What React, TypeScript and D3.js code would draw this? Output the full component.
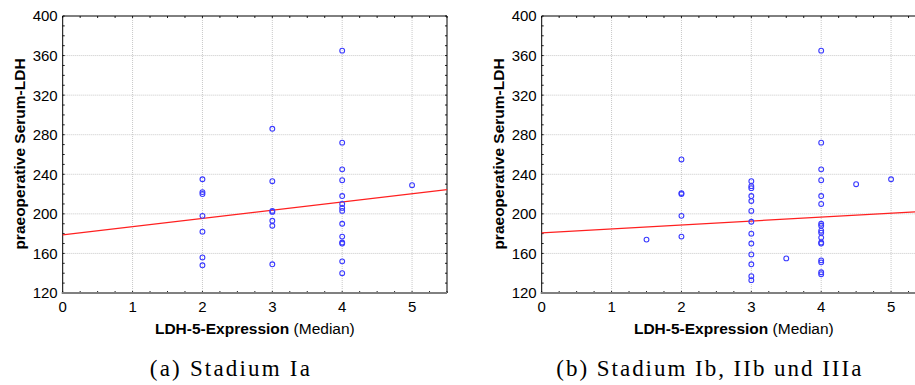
import React from "react";
import * as d3 from "d3";

// Stadium Ia: LDH-5 expression (median) vs. preoperative serum LDH
const xA = [2, 2, 2, 2, 2, 2, 2,
  3, 3, 3, 3, 3, 3, 3,
  4, 4, 4, 4, 4, 4, 4, 4, 4, 4, 4, 4, 4, 4,
  5];
const yA = [235, 222, 220, 198, 182, 156, 148,
  286, 233, 203, 202, 193, 188, 149,
  365, 272, 245, 234, 218, 210, 206, 203, 190, 177, 171, 170, 152, 140,
  229];

// Stadium Ib, IIb und IIIa
const xB = [1.5, 2, 2, 2, 2, 2,
  3, 3, 3, 3, 3, 3, 3, 3, 3, 3, 3, 3, 3,
  3.5,
  4, 4, 4, 4, 4, 4, 4, 4, 4, 4, 4, 4, 4, 4, 4, 4, 4,
  4.5, 5];
const yB = [174, 255, 221, 220, 198, 177,
  233, 228, 226, 218, 213, 203, 192, 180, 170, 159, 149, 137, 133,
  155,
  365, 272, 245, 234, 218, 210, 190, 188, 183, 181, 176, 171, 170, 153, 151, 141, 139,
  230, 235];

// regression lines: [intercept, slope]
const fitA = [178.8, 8.3];
const fitB = [180.7, 4.0];

const xTicks = [0, 1, 2, 3, 4, 5];
const yTicks = [120, 160, 200, 240, 280, 320, 360, 400];

const sans = "'Liberation Sans', Arial, sans-serif";
const serif = "'Liberation Serif', 'Times New Roman', serif";

function Panel({ left, xs, ys, fit, caption, capW }) {
  const right = left + 384.3;
  const top = 16, bottom = 293;
  const x = d3.scaleLinear().domain([0, 5.5]).range([left, right]);
  const y = d3.scaleLinear().domain([120, 400]).range([bottom, top]);
  const minorX = d3.range(0, 5.5001, 0.25);
  const minorY = d3.range(120, 400.001, 10);
  const line = d3.line<number>().x((d) => x(d)).y((d) => y(fit[0] + fit[1] * d));
  const cx = (left + right) / 2;
  return (
    <g>
      {xTicks.slice(1).map((t) => (
        <line key={"gx" + t} x1={x(t)} x2={x(t)} y1={top} y2={bottom} stroke="#c8c8c8" strokeDasharray="1,1" />
      ))}
      {yTicks.slice(1, -1).map((t) => (
        <line key={"gy" + t} x1={left} x2={right} y1={y(t)} y2={y(t)} stroke="#c8c8c8" strokeDasharray="1,1" />
      ))}
      {minorX.map((t) => (
        <g key={"mx" + t}>
          <line x1={x(t)} x2={x(t)} y1={bottom} y2={bottom - 2} stroke="#222" />
          <line x1={x(t)} x2={x(t)} y1={top} y2={top + 2} stroke="#222" />
        </g>
      ))}
      {minorY.map((t) => (
        <g key={"my" + t}>
          <line x1={left} x2={left + 2} y1={y(t)} y2={y(t)} stroke="#222" />
          <line x1={right} x2={right - 2} y1={y(t)} y2={y(t)} stroke="#222" />
        </g>
      ))}
      <line x1={left} x2={right} y1={top} y2={top} stroke="#000" />
      <line x1={right} x2={right} y1={top} y2={bottom} stroke="#000" />
      <line x1={left} x2={left} y1={top} y2={bottom} stroke="#000" />
      <path d={line([0, 5.5]) || ""} stroke="#ff2020" strokeWidth={1.2} fill="none" />
      {xs.map((v, i) => (
        <circle key={i} cx={x(v)} cy={y(ys[i])} r={2.4} fill="none" stroke="#3a3aff" strokeWidth={1.1} />
      ))}
      <line x1={left - 1} x2={right} y1={bottom} y2={bottom} stroke="#808080" strokeWidth={2} />
      {xTicks.map((t) => (
        <text key={"tx" + t} x={x(t)} y={312} textAnchor="middle" fontFamily={sans} fontSize={15} fill="#000">{t}</text>
      ))}
      {yTicks.map((t) => (
        <text key={"ty" + t} x={left - 5} y={y(t)} dy="0.36em" textAnchor="end" fontFamily={sans} fontSize={15} fill="#000">{t}</text>
      ))}
      <text x={cx} y={334} textAnchor="middle" fontFamily={sans} fontSize={15.5} fill="#000">
        <tspan fontWeight="bold">LDH-5-Expression</tspan> (Median)
      </text>
      <text transform={`translate(${left - 38},154) rotate(-90)`} textAnchor="middle" fontFamily={sans} fontSize={15.5} fontWeight="bold" fill="#000">
        praeoperative Serum-LDH
      </text>
      <text x={cx - 25} y={376} textAnchor="middle" fontFamily={serif} fontSize={23} fill="#000" textLength={capW} lengthAdjust="spacing">
        {caption}
      </text>
    </g>
  );
}

export default function App() {
  return (
    <svg width={915} height={385} style={{ position: "absolute", left: 0, top: 0, background: "#fff" }}>
      <rect width={915} height={385} fill="#fff" />
      <Panel left={62.7} xs={xA} ys={yA} fit={fitA} caption="(a) Stadium Ia" capW={160} />
      <Panel left={541.7} xs={xB} ys={yB} fit={fitB} caption="(b) Stadium Ib, IIb und IIIa" capW={305} />
    </svg>
  );
}
